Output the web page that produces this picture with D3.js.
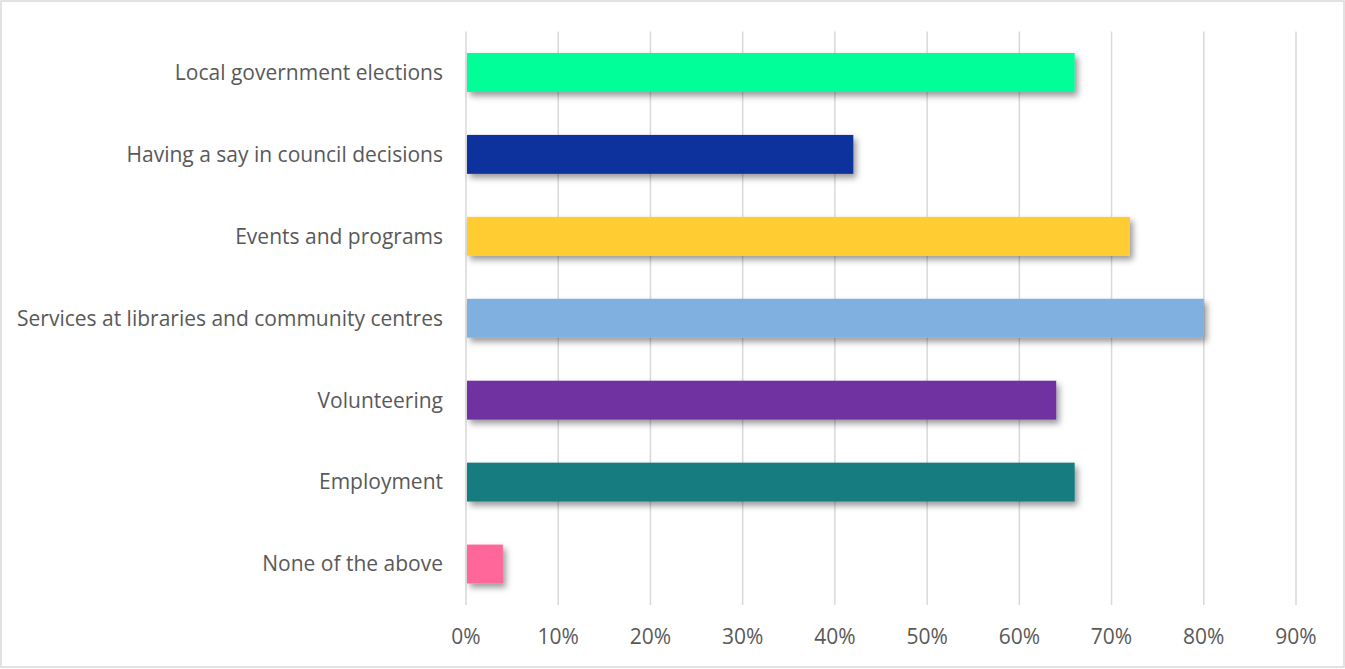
<!DOCTYPE html>
<html>
<head>
  <style>
    body { margin: 0; background: #fff; }
    text { font-family: "Open Sans", Lato, sans-serif; fill: #595959; }
  </style>
</head>
<body>
  <div id="chart"></div>
  <script src="https://d3js.org/d3.v7.min.js"></script>
  <script>
  // data
  const categories = [
    "Local government elections",
    "Having a say in council decisions",
    "Events and programs",
    "Services at libraries and community centres",
    "Volunteering",
    "Employment",
    "None of the above"
  ];
  const values = [66, 42, 72, 80, 64, 66, 4];
  const colors = ["#00ff99", "#10329e", "#ffcc33", "#7fb0df", "#7030a0", "#127c80", "#ff6699"];
  const ticks = [0, 10, 20, 30, 40, 50, 60, 70, 80, 90];

  const W = 1345, H = 669;
  const margin = {top: 31.5, right: 49, bottom: 64, left: 466};

  const svg = d3.select("#chart").append("svg")
      .attr("width", W)
      .attr("height", H);

  // outer border
  svg.append("rect")
    .attr("x", 1).attr("y", 1)
    .attr("width", W - 2).attr("height", H - 3)
    .attr("fill", "none")
    .attr("stroke", "#d9d9d9")
    .attr("stroke-width", 1.5);

  const defs = svg.append("defs");
  const f = defs.append("filter").attr("id", "shadow")
    .attr("x", "-20%").attr("y", "-30%").attr("width", "150%").attr("height", "180%");
  f.append("feDropShadow")
    .attr("dx", 3).attr("dy", 4).attr("stdDeviation", 3)
    .attr("flood-color", "#000").attr("flood-opacity", 0.4);

  const x = d3.scaleLinear()
    .domain([0, 90])
    .range([margin.left, W - margin.right]);

  const y = d3.scaleBand()
    .domain(categories)
    .range([margin.top, H - margin.bottom])
    .paddingInner(0.525)
    .paddingOuter(0.2625);

  // gridlines
  svg.append("g")
    .selectAll("line")
    .data(ticks)
    .join("line")
      .attr("x1", d => x(d)).attr("x2", d => x(d))
      .attr("y1", margin.top).attr("y2", H - margin.bottom)
      .attr("stroke", "#d9d9d9")
      .attr("stroke-width", 1.5);

  // bars
  svg.append("g")
    .selectAll("rect")
    .data(values)
    .join("rect")
      .attr("x", x(0) + 1)
      .attr("y", (d, i) => y(categories[i]))
      .attr("width", d => x(d) - x(0) - 1)
      .attr("height", y.bandwidth())
      .attr("fill", (d, i) => colors[i])
      .attr("filter", "url(#shadow)");

  // category labels
  svg.append("g")
    .selectAll("text")
    .data(categories)
    .join("text")
      .attr("x", margin.left - 23)
      .attr("y", d => y(d) + y.bandwidth() / 2)
      .attr("dy", "0.35em")
      .attr("text-anchor", "end")
      .attr("font-size", 21)
      .text(d => d);

  // x axis labels
  svg.append("g")
    .selectAll("text")
    .data(ticks)
    .join("text")
      .attr("x", d => x(d))
      .attr("y", 637)
      .attr("dy", "0.35em")
      .attr("text-anchor", "middle")
      .attr("font-size", 21)
      .text(d => d + "%");
  </script>
</body>
</html>
